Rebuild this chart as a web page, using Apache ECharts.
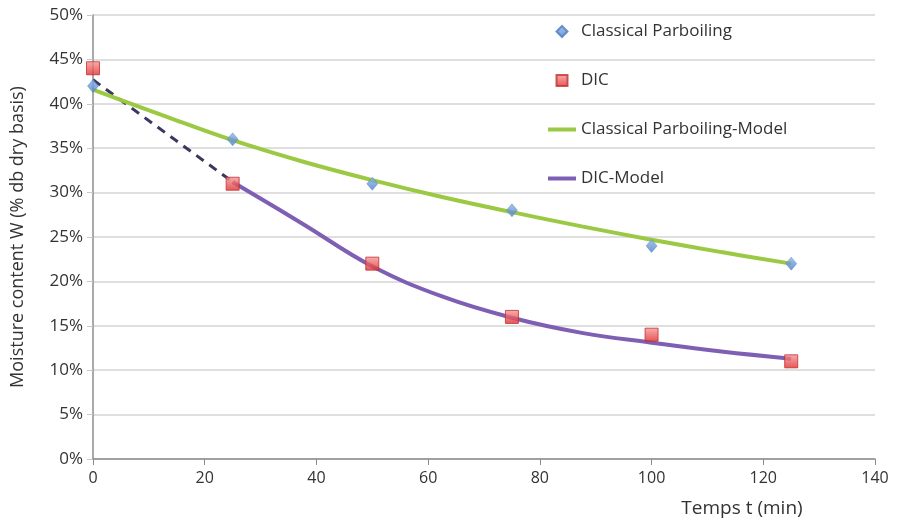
<!DOCTYPE html>
<html>
<head>
<meta charset="utf-8">
<script src="https://cdn.jsdelivr.net/npm/echarts@6/dist/echarts.min.js"></script>
<style>
  html, body { margin: 0; padding: 0; background: #fff; }
  #main { width: 898px; height: 528px; }
</style>
</head>
<body>
<div id="main"></div>
<script>
// measured points (moisture in %)
var times = [0, 25, 50, 75, 100, 125];
var classicalData = [42, 36, 31, 28, 24, 22];
var dicData = [44, 31, 22, 16, 14, 11];
// model curves
var classicalModelT = [0, 12.5, 25, 37.5, 50, 62.5, 75, 87.5, 100, 112.5, 125];
var classicalModel = [41.6, 38.7, 35.9, 33.5, 31.4, 29.5, 27.8, 26.2, 24.7, 23.3, 22.0];
var dicModelT = [25, 37.5, 50, 62.5, 75, 87.5, 100, 112.5, 125];
var dicModel = [31.2, 26.5, 21.7, 18.3, 15.9, 14.2, 13.1, 12.1, 11.3];
// dashed extrapolation to t = 0
var dashT = [0, 25];
var dashVals = [42.7, 31.2];

function pairs(xs, ys) {
  var out = [];
  for (var i = 0; i < xs.length; i++) out.push([xs[i], ys[i]]);
  return out;
}

var font = 'Open Sans';
var chart = echarts.init(document.getElementById('main'));
var option = {
  animation: false,
  textStyle: { fontFamily: font },
  grid: { left: 93, right: 23, top: 15, bottom: 69 },
  legend: {
    orient: 'vertical',
    left: 543,
    top: 18,
    itemGap: 32,
    itemWidth: 28,
    itemHeight: 11,
    symbolKeepAspect: true,
    textStyle: { fontFamily: font, fontSize: 17, color: '#333' },
    data: [
      { name: 'Classical Parboiling', icon: 'path://M5,0L10,5L5,10L0,5Z' },
      { name: 'DIC', icon: 'path://M0,0H10V10H0Z' },
      { name: 'Classical Parboiling-Model', icon: 'path://M0,0H28V4H0Z' },
      { name: 'DIC-Model', icon: 'path://M0,0H28V4H0Z' }
    ]
  },
  xAxis: {
    type: 'value',
    min: 0,
    max: 140,
    interval: 20,
    name: 'Temps t (min)',
    nameLocation: 'middle',
    nameGap: 40,
    nameTextStyle: { fontSize: 19, color: '#333', padding: [0, 0, 0, 516] },
    axisLine: { show: true, lineStyle: { color: '#8c8c8c', width: 1.5 } },
    axisTick: { show: true, length: 6, lineStyle: { color: '#8c8c8c' } },
    axisLabel: { fontSize: 16, color: '#333', margin: 11 },
    splitLine: { show: false }
  },
  yAxis: {
    type: 'value',
    min: 0,
    max: 50,
    interval: 5,
    name: 'Moisture content W (% db dry basis)',
    nameLocation: 'middle',
    nameGap: 66,
    nameTextStyle: { fontSize: 18, color: '#333' },
    axisLine: { show: true, lineStyle: { color: '#8c8c8c', width: 1.5 } },
    axisTick: { show: true, length: 6, lineStyle: { color: '#c8c8c8' } },
    axisLabel: { fontSize: 17, color: '#333', margin: 10, formatter: '{value}%' },
    splitLine: { lineStyle: { color: '#d4d4d4', width: 1.5 } }
  },
  series: [
    {
      name: 'dash',
      type: 'line',
      data: pairs(dashT, dashVals),
      symbol: 'none',
      lineStyle: { color: '#3a385f', width: 3, type: [9, 7] },
      z: 2
    },
    {
      name: 'Classical Parboiling-Model',
      type: 'line',
      data: pairs(classicalModelT, classicalModel),
      smooth: 0.4,
      symbol: 'none',
      color: '#9bc943',
      lineStyle: { color: '#9bc943', width: 4 },
      z: 3
    },
    {
      name: 'DIC-Model',
      type: 'line',
      data: pairs(dicModelT, dicModel),
      smooth: 0.4,
      symbol: 'none',
      color: '#7f5fb3',
      lineStyle: { color: '#7f5fb3', width: 4 },
      z: 3
    },
    {
      name: 'Classical Parboiling',
      type: 'scatter',
      data: pairs(times, classicalData),
      symbol: 'diamond',
      symbolSize: [11, 13],
      itemStyle: {
        color: new echarts.graphic.LinearGradient(0, 0, 0, 1, [
          { offset: 0, color: '#8fb4e6' },
          { offset: 1, color: '#4a7fc9' }
        ]),
        borderColor: '#4a7cc0',
        borderWidth: 0.5
      },
      z: 4
    },
    {
      name: 'DIC',
      type: 'scatter',
      data: pairs(times, dicData),
      symbol: 'rect',
      symbolSize: 13,
      itemStyle: {
        color: new echarts.graphic.LinearGradient(0, 0, 0, 1, [
          { offset: 0, color: '#f59a9a' },
          { offset: 1, color: '#e02b2b' }
        ]),
        borderColor: '#c03030',
        borderWidth: 1
      },
      z: 4
    }
  ]
};
chart.setOption(option);
</script>
</body>
</html>
